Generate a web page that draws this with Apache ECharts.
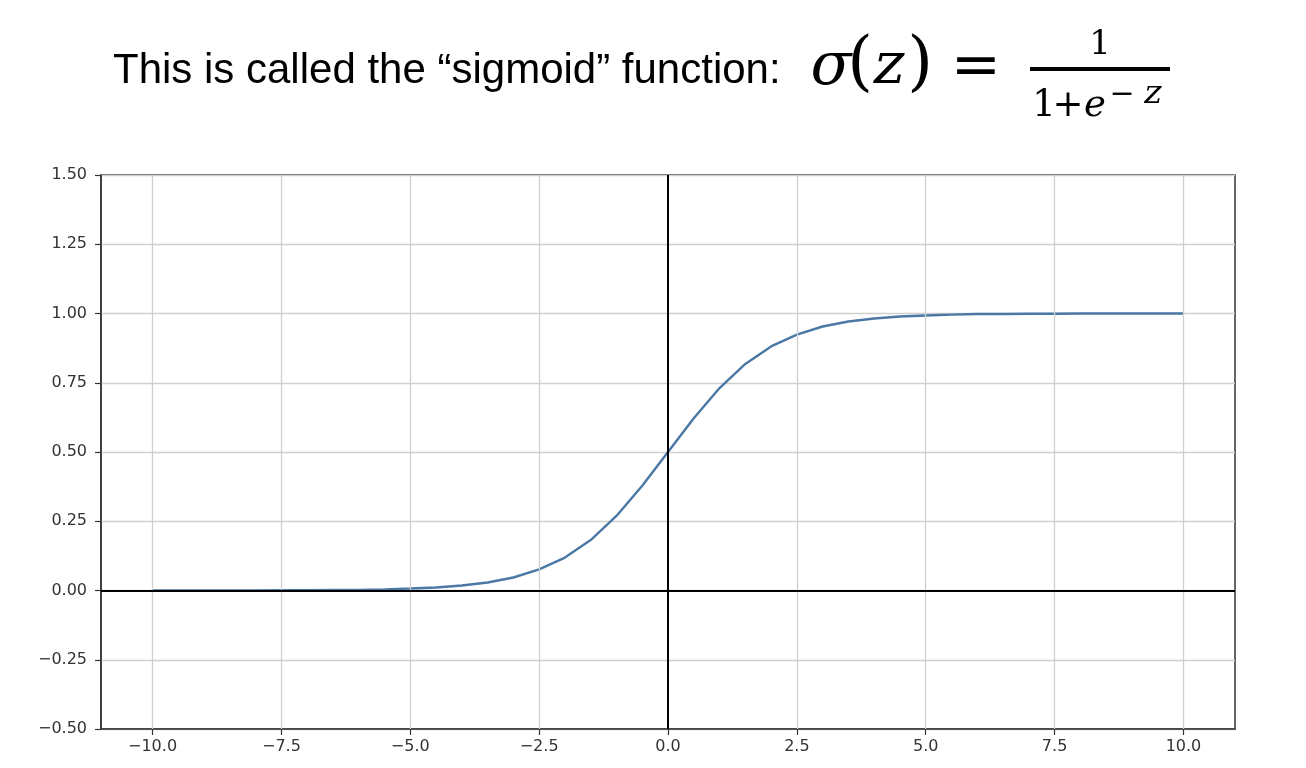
<!DOCTYPE html>
<html>
<head>
<meta charset="utf-8">
<script src="https://cdn.jsdelivr.net/npm/echarts@6/dist/echarts.min.js"></script>
<style>html,body{margin:0;padding:0;background:#fff;}#c{width:1306px;height:768px;}</style>
</head>
<body>
<div id="c"></div>
<script>
// Data
const zValues = [-10,-9.5,-9,-8.5,-8,-7.5,-7,-6.5,-6,-5.5,-5,-4.5,-4,-3.5,-3,-2.5,-2,-1.5,-1,-0.5,0,0.5,1,1.5,2,2.5,3,3.5,4,4.5,5,5.5,6,6.5,7,7.5,8,8.5,9,9.5,10];
const sigmaValues = [0.000,0.000,0.000,0.000,0.000,0.001,0.001,0.002,0.002,0.004,0.007,0.011,0.018,0.029,0.047,0.076,0.119,0.182,0.269,0.378,0.500,0.622,0.731,0.818,0.881,0.924,0.953,0.971,0.982,0.989,0.993,0.996,0.998,0.998,0.999,0.999,1.000,1.000,1.000,1.000,1.000];
const xTicks = [-10,-7.5,-5,-2.5,0,2.5,5,7.5,10];
const yTicks = [-0.5,-0.25,0,0.25,0.5,0.75,1,1.25,1.5];
const titleText = 'This is called the \u201csigmoid\u201d function:';

const fmt = (v, d) => (v < 0 ? '\u2212' : '') + Math.abs(v).toFixed(d);
const chart = echarts.init(document.getElementById('c'), null, {renderer: 'canvas'});
const serif = 'DejaVu Serif';

function glyph(text, x, y, size, italic, align, extra) {
  const el = {type: 'text', silent: true, style: {
    text: text, x: x, y: y, fill: '#000',
    fontFamily: serif, fontSize: size, fontStyle: italic ? 'italic' : 'normal',
    textAlign: align || 'center', textVerticalAlign: 'middle'
  }};
  return Object.assign(el, extra || {});
}
// slanted upright glyph (straight z like the math font)
function slanted(text, x, y, size) {
  return {type: 'group', x: x, y: y, skewX: -0.2, silent: true, children: [
    {type: 'text', silent: true, style: {text: text, x: 0, y: 0, fill: '#000', fontFamily: serif, fontSize: size,
      textAlign: 'center', textVerticalAlign: 'middle'}}
  ]};
}

chart.setOption({
  animation: false,
  backgroundColor: '#fff',
  grid: {left: 101, right: 71, top: 175, bottom: 39, show: true, borderColor: '#333', borderWidth: 1.5, backgroundColor: 'transparent'},
  xAxis: {
    type: 'value', min: -11, max: 11,
    axisLine: {show: true, onZero: false, lineStyle: {color: '#333', width: 1.5}},
    axisTick: {show: true, length: 6, customValues: xTicks, lineStyle: {color: '#333', width: 1.2}},
    axisLabel: {customValues: xTicks, formatter: v => fmt(v, 1), color: '#333', fontFamily: 'DejaVu Sans', fontSize: 16, margin: 10},
    splitLine: {show: false}
  },
  yAxis: {
    type: 'value', min: -0.5, max: 1.5, interval: 0.25,
    axisLine: {show: true, onZero: false, lineStyle: {color: '#333', width: 1.5}},
    axisTick: {show: true, length: 6, lineStyle: {color: '#333', width: 1.2}},
    axisLabel: {formatter: v => fmt(v, 2), color: '#333', fontFamily: 'DejaVu Sans', fontSize: 16, margin: 14},
    splitLine: {show: true, lineStyle: {color: '#cfcfcf', width: 1.3}}
  },
  series: [
    {
      type: 'line', data: [], z: 1, silent: true,
      markLine: {
        silent: true, symbol: ['none', 'none'], label: {show: false},
        lineStyle: {color: '#cfcfcf', width: 1.3, type: 'solid'},
        data: xTicks.filter(v => v !== 0).map(v => ({xAxis: v}))
      }
    },
    {
      type: 'line', z: 2, silent: true,
      data: zValues.map((z, i) => [z, sigmaValues[i]]),
      showSymbol: false, smooth: false,
      lineStyle: {color: '#4a78a5', width: 2.4}
    },
    {
      type: 'line', data: [], z: 3, silent: true,
      markLine: {
        silent: true, symbol: ['none', 'none'], label: {show: false},
        lineStyle: {color: '#000', width: 2, type: 'solid'},
        data: [{xAxis: 0}, {yAxis: 0}]
      }
    }
  ],
  graphic: [
    {type: 'text', silent: true, style: {
      text: titleText, x: 113, y: 71, fill: '#000',
      fontFamily: 'Liberation Sans', fontSize: 42,
      textAlign: 'left', textVerticalAlign: 'middle'
    }},
    glyph('\u03c3', 831, 68, 60, true),
    glyph('(', 860, 66, 66, false),
    slanted('z', 889, 68, 58),
    glyph(')', 920, 66, 66, false),
    glyph('=', 976, 68, 60, false),
    glyph('1', 1100, 45, 34, false),
    {type: 'rect', silent: true, shape: {x: 1030, y: 67, width: 140, height: 4}, style: {fill: '#000'}},
    glyph('1', 1044, 106, 37, false),
    glyph('+', 1068, 106, 37, false),
    glyph('e', 1095, 106, 37, true),
    glyph('\u2212', 1122, 95, 30, false),
    slanted('z', 1153, 94, 33)
  ]
});
</script>
</body>
</html>
